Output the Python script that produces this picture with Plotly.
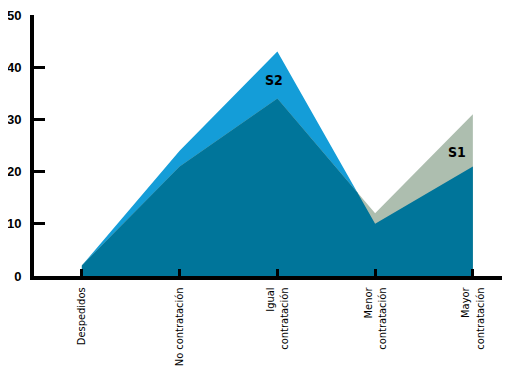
import plotly.graph_objects as go

categories = ["Despedidos", "No contratación", "Igual<br>contratación",
              "Menor<br>contratación", "Mayor<br>contratación"]
s1_values = [2, 21, 34, 12, 31]
s2_values = [2, 24, 43, 10, 21]
y_ticks = [0, 10, 20, 30, 40, 50]

BLUE = "#149dd8"
GRAY = "#adbeaf"
DARK = "#00759a"

xs = list(range(len(categories)))

# overlap region = pointwise minimum of the two piecewise-linear series
ov_x, ov_y = [], []
for i in xs:
    a, b = s1_values[i], s2_values[i]
    ov_x.append(i)
    ov_y.append(min(a, b))
    if i + 1 < len(xs):
        d0 = a - b
        d1 = s1_values[i + 1] - s2_values[i + 1]
        if d0 * d1 < 0:
            t = d0 / (d0 - d1)
            ov_x.append(i + t)
            ov_y.append(a + t * (s1_values[i + 1] - a))

fig = go.Figure()
fig.add_trace(go.Scatter(x=xs, y=s2_values, mode="none", fill="tozeroy",
                         fillcolor=BLUE, name="S2", hoverinfo="skip"))
fig.add_trace(go.Scatter(x=xs, y=s1_values, mode="none", fill="tozeroy",
                         fillcolor=GRAY, name="S1", hoverinfo="skip"))
fig.add_trace(go.Scatter(x=ov_x, y=ov_y, mode="none", fill="tozeroy",
                         fillcolor=DARK, name="overlap", hoverinfo="skip"))

COND = "DejaVu Sans Condensed, Liberation Sans Narrow, Arial"
lab_font = dict(family=COND, size=14, color="black", weight="bold")
fig.add_annotation(x=1.97, y=s2_values[2] - 5.5, text="S2", showarrow=False, font=lab_font)
fig.add_annotation(x=3.84, y=s1_values[4] - 7.3, text="S1", showarrow=False, font=lab_font)

# page body has an 8px margin, so the figure is 8px smaller than the window
fig.update_layout(
    width=502, height=360,
    margin=dict(l=26, r=0, t=7, b=92),
    paper_bgcolor="white", plot_bgcolor="white",
    showlegend=False,
    xaxis=dict(
        range=[-0.49, 4.38], tickmode="array", tickvals=xs, ticktext=categories,
        tickangle=-90, ticks="inside", ticklen=7, tickwidth=3, tickcolor="black",
        showline=True, linecolor="black", linewidth=4, showgrid=False, zeroline=False,
        automargin=False, ticklabelstandoff=3, ticklabeloverflow="allow",
        tickfont=dict(family=COND, size=11, color="black"),
    ),
    yaxis=dict(
        range=[0, 50], tickmode="array", tickvals=y_ticks,
        ticks="inside", ticklen=11, tickwidth=3, tickcolor="black",
        showline=True, linecolor="black", linewidth=4, showgrid=False, zeroline=False,
        automargin=False, ticklabelstandoff=6, ticklabeloverflow="allow",
        tickfont=dict(family="Liberation Sans, Arial", size=13, color="black", weight="bold"),
    ),
)

fig.write_html("out.html")
